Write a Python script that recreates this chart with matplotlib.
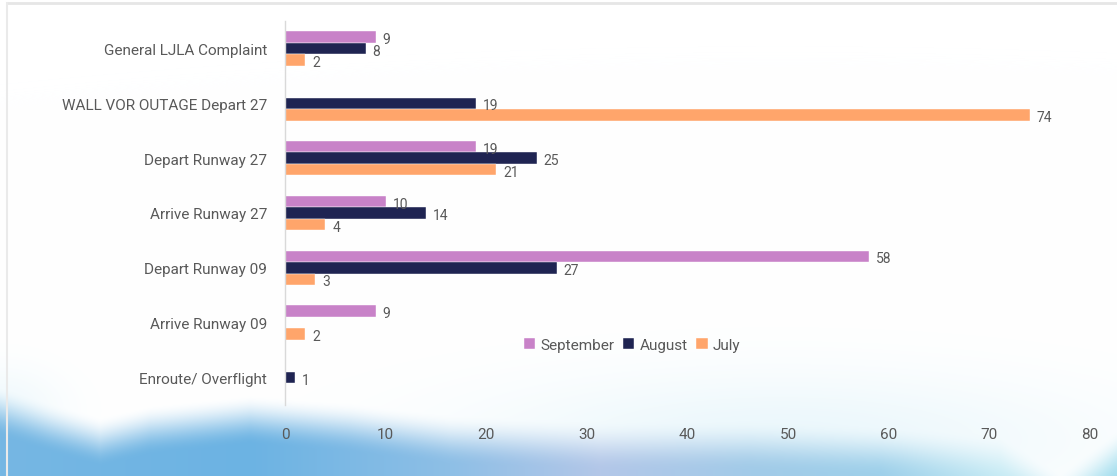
import numpy as np
import matplotlib
matplotlib.use("Agg")
import matplotlib.pyplot as plt
from matplotlib.colors import to_rgb

plt.rcParams['font.family'] = ['Roboto', 'DejaVu Sans']

categories = ["General LJLA Complaint", "WALL VOR OUTAGE Depart 27", "Depart Runway 27",
              "Arrive Runway 27", "Depart Runway 09", "Arrive Runway 09", "Enroute/ Overflight"]
september = [9, 0, 19, 10, 58, 9, 0]
august = [8, 19, 25, 14, 27, 0, 1]
july = [2, 74, 21, 4, 3, 2, 0]
series_names = ["September", "August", "July"]
colors = ["#C882C8", "#1F2452", "#FFA56B"]
xticks = [0, 10, 20, 30, 40, 50, 60, 70, 80]

W, H = 1117, 477
fig = plt.figure(figsize=(W / 100, H / 100), dpi=100)

# ---- decorative background (soft blue cloud at bottom) ----
bg = fig.add_axes([0, 0, 1, 1], zorder=0)
xx, yy = np.meshgrid(np.arange(W), np.arange(H))
img = np.ones((H, W, 3))
bx = [0, 50, 100, 150, 250, 350, 450, 600, 750, 900, 1000, 1060, 1117]
by = [412, 428, 442, 430, 420, 428, 440, 446, 446, 452, 460, 498, 455]
boundary = np.interp(xx, bx, by)
t = np.clip((yy - boundary) / 50 + 0.5, 0, 1)
alpha = t * t * (3 - 2 * t)
cx = [0, 250, 450, 600, 750, 880, 1000, 1117]
cc = ["#76B7E3", "#6CB3E3", "#8EBFE6", "#B3C7E8", "#A2CBE8", "#9ED0EA", "#C4EAF4", "#A4DEEE"]
ccol = np.array([to_rgb(c) for c in cc])
col = np.stack([np.interp(xx, cx, ccol[:, k]) for k in range(3)], axis=-1)
# haze
haze = 0.45 * np.exp(-(((xx - 780) / 300.0) ** 2 + ((yy - 440) / 65.0) ** 2))
haze += 0.35 * np.exp(-(((xx - 0) / 60.0) ** 2 + ((yy - 410) / 40.0) ** 2))
haze = np.clip(haze, 0, 1)
hcol = np.array(to_rgb("#D3EEF8"))
img = img * (1 - haze[..., None]) + hcol * haze[..., None]
img = img * (1 - alpha[..., None]) + col * alpha[..., None]
bg.imshow(img, aspect='auto', extent=(0, W, H, 0), interpolation='bilinear')
bg.set_xlim(0, W)
bg.set_ylim(H, 0)
bg.plot([7, W], [4, 4], color="#E6E6E6", lw=2)
bg.plot([7, 7], [4, H], color="#EAEAEA", lw=1.5)
bg.axis('off')

# ---- chart ----
ax = fig.add_axes([285 / W, 1 - 406 / H, (1090 - 285) / W, (406 - 22) / H], zorder=1)
ax.patch.set_alpha(0)
y = np.arange(len(categories))
h = 0.21
offsets = [-h, 0, h]
all_series = [september, august, july]
for vals, off, c, name in zip(all_series, offsets, colors, series_names):
    ax.barh(y + off, vals, height=h, color=c, edgecolor="white", linewidth=0.3, label=name)
    for yi, v in zip(y, vals):
        if v:
            ax.annotate(str(v), (v, yi + off), xytext=(5, -1.5), textcoords="offset points",
                        ha="left", va="center", fontsize=10, color="#595959")

ax.set_ylim(len(categories) - 0.5, -0.5)
ax.set_xlim(0, 80)
ax.set_xticks(xticks)
ax.set_yticks(y)
ax.set_yticklabels(categories)
ax.tick_params(axis='both', length=0, colors="#595959", labelsize=11)
ax.tick_params(axis='x', pad=16)
ax.tick_params(axis='y', pad=13)
for s in ["top", "right", "bottom"]:
    ax.spines[s].set_visible(False)
ax.spines["left"].set_color("#D9D9D9")
ax.spines["left"].set_linewidth(1)

leg = ax.legend(loc="center", bbox_to_anchor=(632 / W, 1 - 346 / H), bbox_transform=fig.transFigure,
                ncol=3, frameon=False, fontsize=11, handlelength=0.75, handleheight=0.75,
                handletextpad=0.35, columnspacing=0.55, labelcolor="#595959")

fig.savefig("out.png", dpi=100)
